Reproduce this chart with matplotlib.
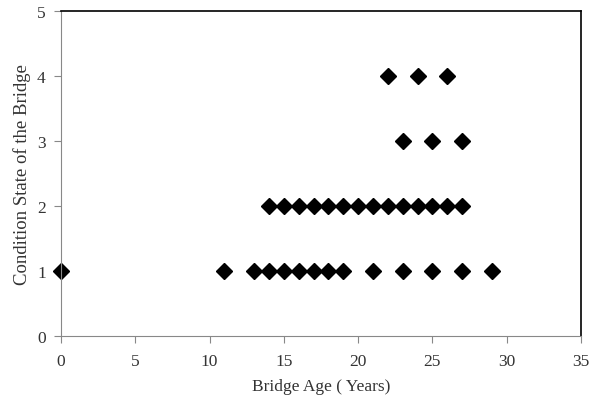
#!/usr/bin/env python3
"""Bridge condition state vs age scatter"""
import matplotlib
matplotlib.use('Agg')
import matplotlib.pyplot as plt

# condition state 1
age_cs1 = [0, 11, 13, 14, 15, 16, 17, 18, 19, 21, 23, 25, 27, 29]
# condition state 2
age_cs2 = [14, 15, 16, 17, 18, 19, 20, 21, 22, 23, 24, 25, 26, 27]
# condition state 3
age_cs3 = [23, 25, 27]
# condition state 4
age_cs4 = [22, 24, 26]

ages = age_cs1 + age_cs2 + age_cs3 + age_cs4
states = [1] * len(age_cs1) + [2] * len(age_cs2) + [3] * len(age_cs3) + [4] * len(age_cs4)

plt.rcParams['font.family'] = ['Liberation Serif', 'DejaVu Serif']

fig = plt.figure(figsize=(5.9, 4.02), dpi=100)
ax = fig.add_axes([0.1034, 0.1617, 0.8813, 0.8083])

ax.plot(ages, states, linestyle='none', marker='D', markersize=8.5,
        color='black', clip_on=False)

ax.set_xlim(0, 35)
ax.set_ylim(0, 5)
ax.set_xticks(range(0, 36, 5))
ax.set_yticks(range(0, 6))

ax.set_xlabel('Bridge Age ( Years)', fontsize=12.5, color='#333333', labelpad=7)
ax.set_ylabel('Condition State of the Bridge', fontsize=13.5, color='#333333', labelpad=4)

for side in ['left', 'bottom']:
    ax.spines[side].set_color('#888888')
for side in ['top', 'right']:
    ax.spines[side].set_color('black')
    ax.spines[side].set_linewidth(1.2)

ax.tick_params(axis='both', direction='out', length=5, color='#888888',
               labelsize=12.5, labelcolor='#333333')
ax.tick_params(axis='x', pad=7)
ax.tick_params(axis='y', pad=6)

plt.savefig('out.png', dpi=100)
